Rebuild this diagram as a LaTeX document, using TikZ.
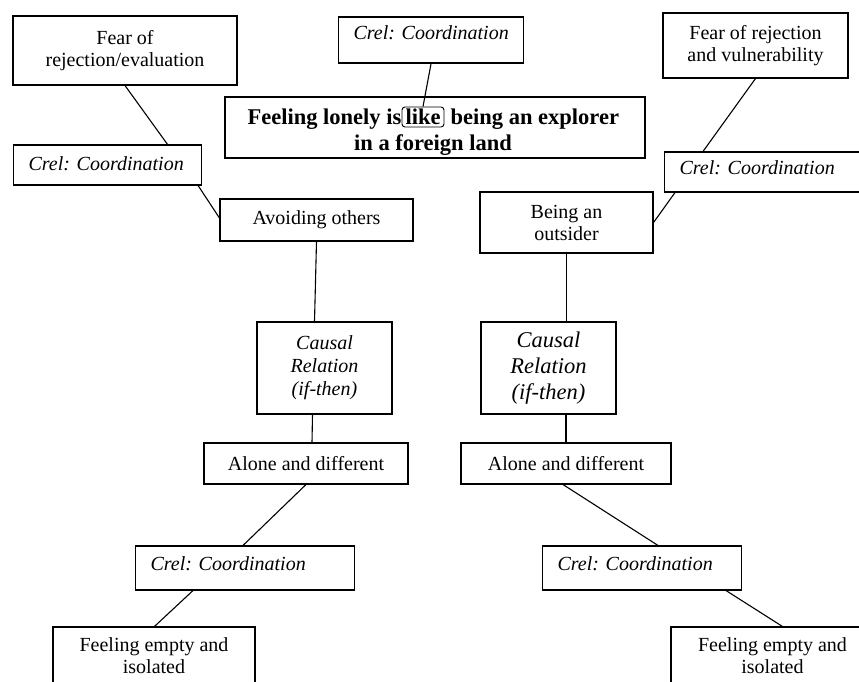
\documentclass[tikz,border=0pt]{standalone}
\usepackage{fontspec}
\setmainfont{Liberation Serif}
\frenchspacing
\tikzset{
  box/.style={draw, line width=1.1pt, inner sep=0pt, align=center,
    font=\fontsize{20}{22}\selectfont},
  crelbox/.style={draw, line width=1.1pt, inner ysep=0pt, inner xsep=15pt,
    align=left, anchor=base west, font=\fontsize{20}{22}\selectfont\itshape},
  causalL/.style={box, font=\fontsize{20}{23}\selectfont\itshape},
  causalR/.style={box, font=\fontsize{22.5}{26}\selectfont\itshape},
  bigtext/.style={inner sep=0pt, font=\fontsize{22.5}{25}\selectfont\bfseries},
  likebox/.style={draw, line width=0.9pt, rounded corners=3pt, inner sep=0pt,
    minimum width=42pt, minimum height=20pt, font=\fontsize{22.5}{25}\selectfont\bfseries},
  conn/.style={draw, line width=1.1pt}
}
\begin{document}
\begin{tikzpicture}[x=1pt, y=-1pt]
\useasboundingbox (0,0) rectangle (859,682);
\clip (0,0) rectangle (859,682);
\fill[white] (0,0) rectangle (859,682);

% top row
\node[box, minimum width=224pt, minimum height=69pt] (fear1) at (125,50.5) {Fear of\\rejection/evaluation};
\node[crelbox, text width=155pt, text height=23pt, text depth=23pt] (crelTop) at (338,40) {\mbox{Crel: Coordination}};
\node[box, minimum width=185pt, minimum height=65pt] (fear2) at (755.5,45.5) {Fear of rejection\\and vulnerability};

% main statement
\node[draw, line width=1.1pt, inner sep=0pt, minimum width=420pt, minimum height=61pt] (main) at (435,127.5) {};
\node[likebox] (like) at (423,117) {like};
\node[bigtext, anchor=base east] (l1a) at (like.base west) {Feeling lonely is};
\node[bigtext, anchor=base west] (l1b) at ([xshift=6pt]like.base east) {being an explorer};
\node[bigtext, anchor=base] (l2) at (433,150) {in a foreign land};

% second row
\node[crelbox, text width=158pt, text height=25pt, text depth=15pt] (crelTL) at (13,170) {\mbox{Crel: Coordination}};
\node[crelbox, text width=176pt, text height=23pt, text depth=17pt] (crelR) at (664,175) {\mbox{Crel: Coordination}};

\node[box, minimum width=193pt, minimum height=42pt] (avoid) at (316.5,220) {Avoiding others};
\node[box, minimum width=173pt, minimum height=61pt] (outsider) at (566.5,222.5) {Being an\\outsider};

% causal
\node[causalL, minimum width=135pt, minimum height=92pt] (causL) at (324.5,368) {Causal\\Relation\\(if-then)};
\node[causalR, minimum width=135pt, minimum height=92pt] (causR) at (548.5,368) {Causal\\Relation\\(if-then)};

% alone
\node[box, minimum width=204pt, minimum height=41pt] (aloneL) at (306,463.5) {Alone and different};
\node[box, minimum width=210pt, minimum height=41pt] (aloneR) at (566,463.5) {Alone and different};

% bottom crel
\node[crelbox, text width=189pt, text height=24pt, text depth=20pt] (crelBL) at (135,570) {\mbox{Crel: Coordination}};
\node[crelbox, text width=169pt, text height=24pt, text depth=20pt] (crelBR) at (542,570) {\mbox{Crel: Coordination}};

% feeling empty
\node[box, minimum width=202pt, minimum height=57pt] (feelL) at (154,655.5) {Feeling empty and\\isolated};
\node[box, minimum width=203pt, minimum height=57pt] (feelR) at (772.5,655.5) {Feeling empty and\\isolated};

% connectors
\draw[conn] (fear1.south) -- ([xshift=60pt]crelTL.north);
\draw[conn] ([xshift=-4pt]crelTL.south east) -- ([yshift=2pt]avoid.west);
\draw[conn] (crelTop.south) -- (like.north);
\draw[conn] (fear2.south) -- ([xshift=39pt]crelR.north west);
\draw[conn] ([xshift=11pt]crelR.south west) -- (outsider.east);
\draw[conn] (avoid.south) -- ([xshift=-10pt]causL.north);
\draw[conn] ([xshift=-12pt]causL.south) -- ([xshift=6pt]aloneL.north);
\draw[conn] (outsider.south) -- ([xshift=18pt]causR.north);
\draw[conn] ([xshift=17.5pt]causR.south) -- (aloneR.north);
\draw[conn] (aloneL.south) -- ([xshift=108pt]crelBL.north west);
\draw[conn] ([xshift=58pt]crelBL.south west) -- ([xshift=102pt]feelL.north west);
\draw[conn] ([xshift=-3pt]aloneR.south) -- ([xshift=116pt]crelBR.north west);
\draw[conn] ([xshift=184pt]crelBR.south west) -- ([xshift=112pt]feelR.north west);
\end{tikzpicture}
\end{document}
